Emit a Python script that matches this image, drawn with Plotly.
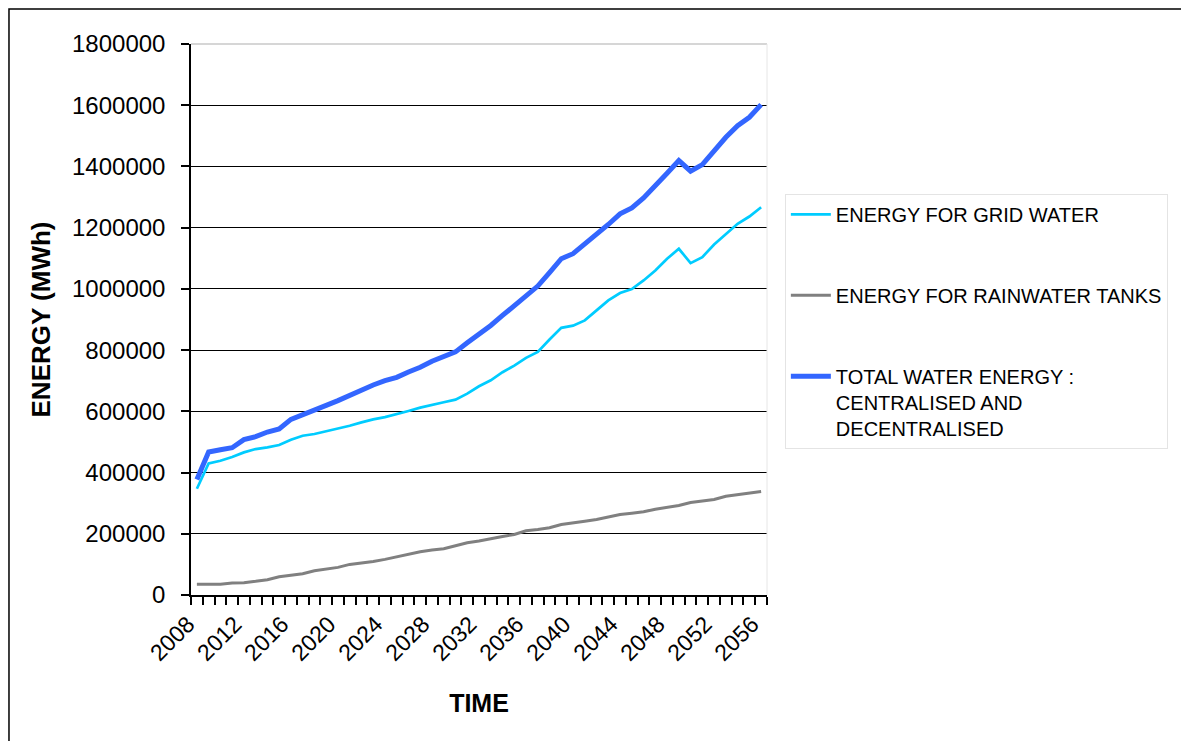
import plotly.graph_objects as go

years = list(range(2008, 2057))

grid_energy = [347100, 429900, 438700, 450700, 465900, 476800, 482300, 489900, 507400, 520400,
               525900, 534600, 544400, 553100, 564000, 573800, 581000, 590200, 601100, 612000,
               621900, 629500, 638200, 657900, 681900, 701500, 727700, 749500, 774600, 794300,
               834600, 872800, 880000, 897200, 929800, 962400, 986400, 999400, 1027700, 1060300,
               1098400, 1131000, 1084200, 1103800, 1145100, 1177700, 1212500, 1236400, 1266900]

rain_energy = [34800, 34800, 34800, 39100, 40200, 44600, 50000, 59800, 64100, 69600,
               79400, 84800, 90200, 100000, 104300, 109700, 116300, 125000, 131500, 141300,
               146700, 151100, 160900, 170700, 176100, 184800, 191300, 197800, 209800, 214100,
               219500, 230400, 236900, 241300, 246700, 255400, 263000, 267400, 271700, 280400,
               287000, 292400, 302200, 307600, 311900, 322800, 327100, 332600, 338000]

total_energy = [377600, 467000, 474600, 481200, 507400, 517200, 532400, 542200, 573800, 590200,
                604400, 619600, 634900, 652300, 670900, 686200, 700000, 711200, 728700, 743900,
                763800, 780100, 794300, 823800, 851000, 880500, 913200, 943800, 976500, 1009200,
                1053000, 1098600, 1115000, 1145100, 1177700, 1210400, 1245100, 1264700, 1297300, 1335400,
                1377800, 1419200, 1384400, 1406200, 1451800, 1495300, 1533400, 1560600, 1601900]

series_names = ["ENERGY FOR GRID WATER",
                "ENERGY FOR RAINWATER TANKS",
                "TOTAL WATER ENERGY :<br>CENTRALISED AND<br>DECENTRALISED"]

x_tick_labels = [str(y) for y in range(2008, 2057, 4)]
y_tick_values = [0, 200000, 400000, 600000, 800000, 1000000, 1200000, 1400000, 1600000, 1800000]

FONT = "Liberation Sans, Arial, sans-serif"

fig = go.Figure()
fig.add_trace(go.Scatter(x=years, y=grid_energy, mode="lines", name=series_names[0],
                         line=dict(color="#00CCFF", width=2.7), legendgroup="g1"))
fig.add_trace(go.Scatter(x=years, y=rain_energy, mode="lines", name=series_names[1],
                         line=dict(color="#808080", width=3), legendgroup="g2"))
fig.add_trace(go.Scatter(x=years, y=total_energy, mode="lines", name=series_names[2],
                         line=dict(color="#3366FF", width=5), legendgroup="g3"))

fig.update_layout(
    width=1181, height=733,
    paper_bgcolor="white", plot_bgcolor="white",
    margin=dict(l=183, r=422, t=36, b=146),
    font=dict(family=FONT, color="black", size=23),
    showlegend=True,
    legend=dict(
        x=1.031, y=0.728, xanchor="left", yanchor="top",
        font=dict(family=FONT, size=20, color="black"),
        bgcolor="white", bordercolor="#e4e4e4", borderwidth=1,
        tracegroupgap=52, valign="top", itemwidth=40,
    ),
    xaxis=dict(
        range=[2007.5, 2056.5],
        tickmode="array", tickvals=[int(t) for t in x_tick_labels], ticktext=x_tick_labels,
        tickangle=-45, ticks="outside", ticklen=0,
        ticklabelshift=-9, ticklabelstandoff=5,
        tickfont=dict(family=FONT, size=23),
        minor=dict(ticks="outside", ticklen=8, tickcolor="black", tickwidth=1.5,
                   tick0=2007.5, dtick=1, showgrid=False),
        showgrid=False, zeroline=False,
        showline=True, linecolor="black", linewidth=1.5,
        title=dict(text="<b>TIME</b>", font=dict(family=FONT, size=25), standoff=30),
        automargin=False,
    ),
    yaxis=dict(
        range=[0, 1800000],
        tickmode="array", tickvals=y_tick_values, ticktext=[str(v) for v in y_tick_values],
        ticks="outside", ticklen=8, tickcolor="black", tickwidth=1.5,
        ticklabelstandoff=11,
        tickfont=dict(family=FONT, size=24),
        showgrid=True, gridcolor="black", gridwidth=1.3,
        zeroline=False, showline=True, linecolor="black", linewidth=1.5,
        title=dict(text="<b>ENERGY (MWh)</b>", font=dict(family=FONT, size=26), standoff=14),
        automargin=False,
    ),
    shapes=[
        # plot-area border (top and right, light grey)
        dict(type="line", xref="paper", yref="paper", x0=0, x1=1, y0=1, y1=1,
             line=dict(color="#c8c8c8", width=1.5), layer="above"),
        dict(type="line", xref="paper", yref="paper", x0=1, x1=1, y0=0, y1=1,
             line=dict(color="#e6e6e6", width=1), layer="above"),
        # outer chart frame
        dict(type="rect", xref="paper", yref="paper",
             x0=-0.3160, x1=1.7274, y0=-0.30, y1=1.0635,
             line=dict(color="black", width=1.5), layer="below"),
    ],
)

fig.write_html("out.html")
